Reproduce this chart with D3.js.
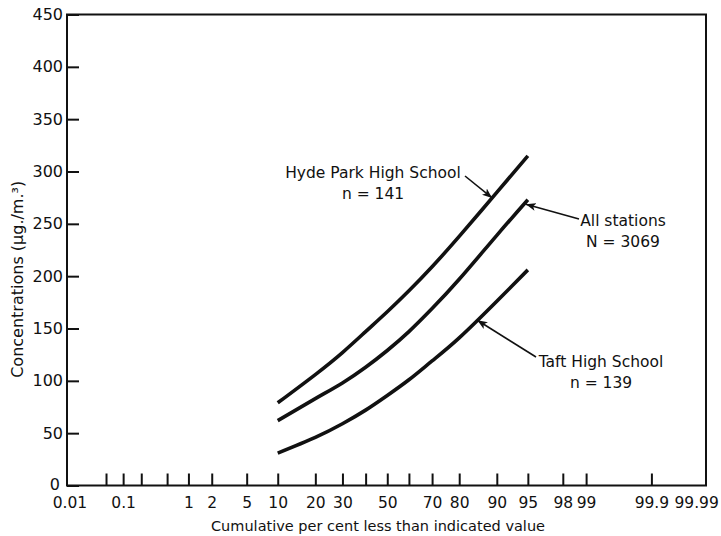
<!DOCTYPE html>
<html>
<head>
<meta charset="utf-8">
<script src="https://cdn.jsdelivr.net/npm/d3@7/dist/d3.min.js"></script>
<style>
  html, body { margin: 0; padding: 0; background: #fff; }
  svg { display: block; font-family: "DejaVu Sans", sans-serif; }
</style>
</head>
<body>
<svg id="chart" width="721" height="536"></svg>
<script>
// Cumulative percentages at which each distribution is read (probability scale)
const percents = [10, 20, 30, 40, 50, 60, 70, 80, 90, 95];

// Concentrations (µg/m³) at those percentages
const hydePark    = [79, 106, 127, 147, 166, 186, 209, 238, 280, 315];
const allStations = [62, 83, 98, 113, 129, 147, 169, 197, 239, 273];
const taft        = [31, 46, 59, 72, 86, 101, 119, 141, 176, 206];

// Axis definitions
const xTickMarks  = [0.05, 0.1, 0.2, 0.5, 1, 2, 5, 10, 20, 30, 40, 50, 60, 70, 80, 90, 95, 98, 99, 99.9];
const xTickLabels = ["0.01", "0.1", "1", "2", "5", "10", "20", "30", "50", "70", "80", "90", "95", "98", "99", "99.9", "99.99"];
const yTickLabels = [0, 50, 100, 150, 200, 250, 300, 350, 400, 450];

// Inverse standard normal CDF (Acklam's rational approximation)
function probit(p) {
  const a = [-3.969683028665376e+01, 2.209460984245205e+02, -2.759285104469687e+02, 1.383577518672690e+02, -3.066479806614716e+01, 2.506628277459239e+00];
  const b = [-5.447609879822406e+01, 1.615858368580409e+02, -1.556989798598866e+02, 6.680131188771972e+01, -1.328068155288572e+01];
  const c = [-7.784894002430293e-03, -3.223964580411365e-01, -2.400758277161838e+00, -2.549732539343734e+00, 4.374664141464968e+00, 2.938163982698783e+00];
  const d = [7.784695709041462e-03, 3.224671290700398e-01, 2.445134137142996e+00, 3.754408661907416e+00];
  const pl = 0.02425, ph = 1 - pl;
  let q, r;
  if (p < pl) {
    q = Math.sqrt(-2 * Math.log(p));
    return (((((c[0]*q+c[1])*q+c[2])*q+c[3])*q+c[4])*q+c[5]) / ((((d[0]*q+d[1])*q+d[2])*q+d[3])*q+1);
  }
  if (p > ph) {
    q = Math.sqrt(-2 * Math.log(1 - p));
    return -(((((c[0]*q+c[1])*q+c[2])*q+c[3])*q+c[4])*q+c[5]) / ((((d[0]*q+d[1])*q+d[2])*q+d[3])*q+1);
  }
  q = p - 0.5; r = q * q;
  return (((((a[0]*r+a[1])*r+a[2])*r+a[3])*r+a[4])*r+a[5])*q / (((((b[0]*r+b[1])*r+b[2])*r+b[3])*r+b[4])*r+1);
}
const zOf = pct => probit(pct / 100);

const svg = d3.select("#chart");
const frame = { left: 67, right: 706, top: 14.5, bottom: 485.5 };

// Normal-probability x scale: linear in z
const z = d3.scaleLinear()
  .domain([zOf(0.01) - 0.028, zOf(99.99) + 0.01])
  .range([frame.left, frame.right]);
const x = pct => z(zOf(pct));

const y = d3.scaleLinear().domain([0, 450]).range([frame.bottom, frame.top]);

// Frame
svg.append("rect")
  .attr("x", frame.left).attr("y", frame.top)
  .attr("width", frame.right - frame.left).attr("height", frame.bottom - frame.top)
  .attr("fill", "none").attr("stroke", "#111").attr("stroke-width", 2);

// X axis: inward tick marks
const xMarks = svg.append("g")
  .attr("transform", `translate(0,${frame.bottom})`)
  .call(d3.axisBottom(z).tickValues(xTickMarks.map(zOf)).tickSizeInner(-12).tickSizeOuter(0).tickFormat(""));
xMarks.select(".domain").remove();
xMarks.selectAll(".tick line").attr("stroke", "#111").attr("stroke-width", 2);

// X axis: labels (the last one is nudged inward so it stays on the page)
const xLabels = svg.append("g")
  .attr("transform", `translate(0,${frame.bottom})`)
  .call(d3.axisBottom(z).tickValues(xTickLabels.map(s => zOf(+s))).tickSize(0).tickPadding(11)
    .tickFormat((v, i) => xTickLabels[i]));
xLabels.select(".domain").remove();
xLabels.selectAll(".tick text")
  .attr("font-size", 15.5).attr("font-family", "DejaVu Sans, sans-serif").attr("fill", "#111")
  .attr("dx", (d, i) => i === xTickLabels.length - 1 ? -9 : 0);

// Y axis
const yAxis = svg.append("g")
  .attr("transform", `translate(${frame.left},0)`)
  .call(d3.axisLeft(y).tickValues(yTickLabels).tickSizeInner(-12).tickSizeOuter(0).tickPadding(4));
yAxis.select(".domain").remove();
yAxis.selectAll(".tick line").attr("stroke", "#111").attr("stroke-width", 2);
yAxis.selectAll(".tick text")
  .attr("x", -4).attr("font-size", 16).attr("font-family", "DejaVu Sans, sans-serif").attr("fill", "#111")
  .attr("dx", d => d === 0 ? -3 : 0)
  .attr("dy", d => d === 0 ? "0.22em" : "0.32em");

// Axis titles
svg.append("text")
  .attr("x", 378).attr("y", 531)
  .attr("text-anchor", "middle").attr("font-size", 14.5).attr("fill", "#111")
  .text("Cumulative per cent less than indicated value");

svg.append("text")
  .attr("transform", `translate(23,${y(197)}) rotate(-90)`)
  .attr("text-anchor", "middle").attr("font-size", 16).attr("fill", "#111")
  .text("Concentrations (\u03bcg./m.\u00b3)");

// Distribution curves
const line = d3.line()
  .x((d, i) => x(percents[i]))
  .y(d => y(d))
  .curve(d3.curveNatural);

const series = [hydePark, allStations, taft];
svg.selectAll("path.curve")
  .data(series)
  .join("path")
  .attr("class", "curve")
  .attr("d", line)
  .attr("fill", "none")
  .attr("stroke", "#111")
  .attr("stroke-width", 3.6);

// Point on a curve at a given percentage (linear in z between readings)
function pointAt(values, pct) {
  const zs = percents.map(zOf);
  const v = d3.scaleLinear().domain(zs).range(values)(zOf(pct));
  return [x(pct), y(v)];
}

// Arrowhead
svg.append("defs").append("marker")
  .attr("id", "arrow")
  .attr("viewBox", "0 0 10 8")
  .attr("refX", 10).attr("refY", 4)
  .attr("markerWidth", 10).attr("markerHeight", 8)
  .attr("markerUnits", "userSpaceOnUse")
  .attr("orient", "auto")
  .append("path")
  .attr("d", "M0,0 L10,4 L0,8 L2.5,4 Z")
  .attr("fill", "#111");

function arrow(from, to) {
  svg.append("line")
    .attr("x1", from[0]).attr("y1", from[1])
    .attr("x2", to[0]).attr("y2", to[1])
    .attr("stroke", "#111").attr("stroke-width", 1.6)
    .attr("marker-end", "url(#arrow)");
}

function label(lines, cx, baseline) {
  lines.forEach((t, i) => {
    svg.append("text")
      .attr("x", cx).attr("y", baseline + i * 21)
      .attr("text-anchor", "middle").attr("font-size", 15.5).attr("fill", "#111")
      .text(t);
  });
}

// Annotations
label(["Hyde Park High School", "n = 141"], 373, 178);
arrow([465, 176], pointAt(hydePark, 89));

label(["All stations", "N = 3069"], 623, 226);
const allEnd = pointAt(allStations, 94.5);
arrow([579, 219], [allEnd[0] + 2, allEnd[1]]);

label(["Taft High School", "n = 139"], 601, 367);
arrow([536, 357], pointAt(taft, 85.4));
</script>
</body>
</html>
